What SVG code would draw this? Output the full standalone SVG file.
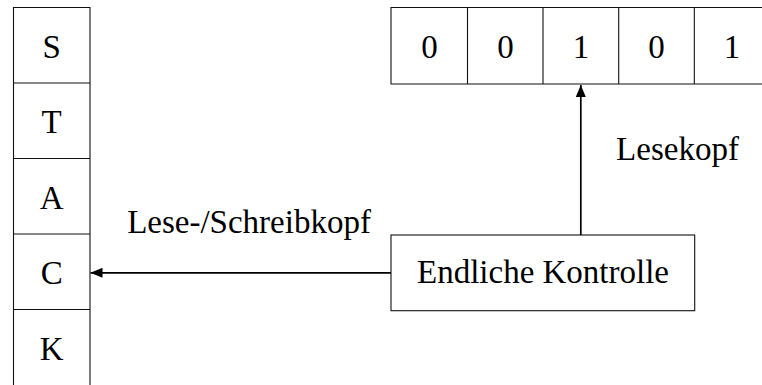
<svg xmlns="http://www.w3.org/2000/svg" width="762" height="385" viewBox="0 0 762 385">
  <style>
    .box { fill: none; stroke: #111; stroke-width: 1.1; }
    .lbl { fill: #000; text-anchor: middle; font-family: "Liberation Serif", serif; font-size: 33px; }
    .edge { fill: none; stroke: #000; stroke-width: 1.7; }
  </style>
  <defs>
    <marker id="tip" viewBox="0 0 12 10" refX="12" refY="5" markerWidth="12" markerHeight="10" markerUnits="userSpaceOnUse" orient="auto">
      <path d="M0,0 L12,5 L0,10 Z" fill="#000"/>
    </marker>
  </defs>

  <!-- stack: open at the bottom -->
  <g id="stack">
    <path class="box" d="M13.5,385 V7.5 H90 V385 M13.5,83 H90 M13.5,158.5 H90 M13.5,234 H90 M13.5,309.5 H90"/>
    <text class="lbl" x="51.7" y="57.5">S</text>
    <text class="lbl" x="51.7" y="133">T</text>
    <text class="lbl" x="51.7" y="208.5">A</text>
    <text class="lbl" x="51.7" y="284">C</text>
    <text class="lbl" x="51.7" y="359.5">K</text>
  </g>

  <!-- input tape: runs off the right edge -->
  <g id="tape">
    <path class="box" d="M762,7.5 H391 V84 H762 M467.5,7.5 V84 M543,7.5 V84 M618.7,7.5 V84 M694.3,7.5 V84"/>
    <text class="lbl" x="429.5" y="58">0</text>
    <text class="lbl" x="505.5" y="58">0</text>
    <text class="lbl" x="581" y="58">1</text>
    <text class="lbl" x="656.5" y="58">0</text>
    <text class="lbl" x="732" y="58">1</text>
  </g>

  <!-- finite control -->
  <g id="control">
    <rect class="box" x="391" y="235" width="303.7" height="75.7"/>
    <text class="lbl" x="543" y="283">Endliche Kontrolle</text>
  </g>

  <g id="connectors">
    <line class="edge" x1="580.8" y1="235" x2="580.8" y2="85" marker-end="url(#tip)"/>
    <line class="edge" x1="391" y1="272.8" x2="90.5" y2="272.8" marker-end="url(#tip)"/>
    <text class="lbl" x="677.5" y="160">Lesekopf</text>
    <text class="lbl" x="249" y="233">Lese-/Schreibkopf</text>
  </g>
</svg>
